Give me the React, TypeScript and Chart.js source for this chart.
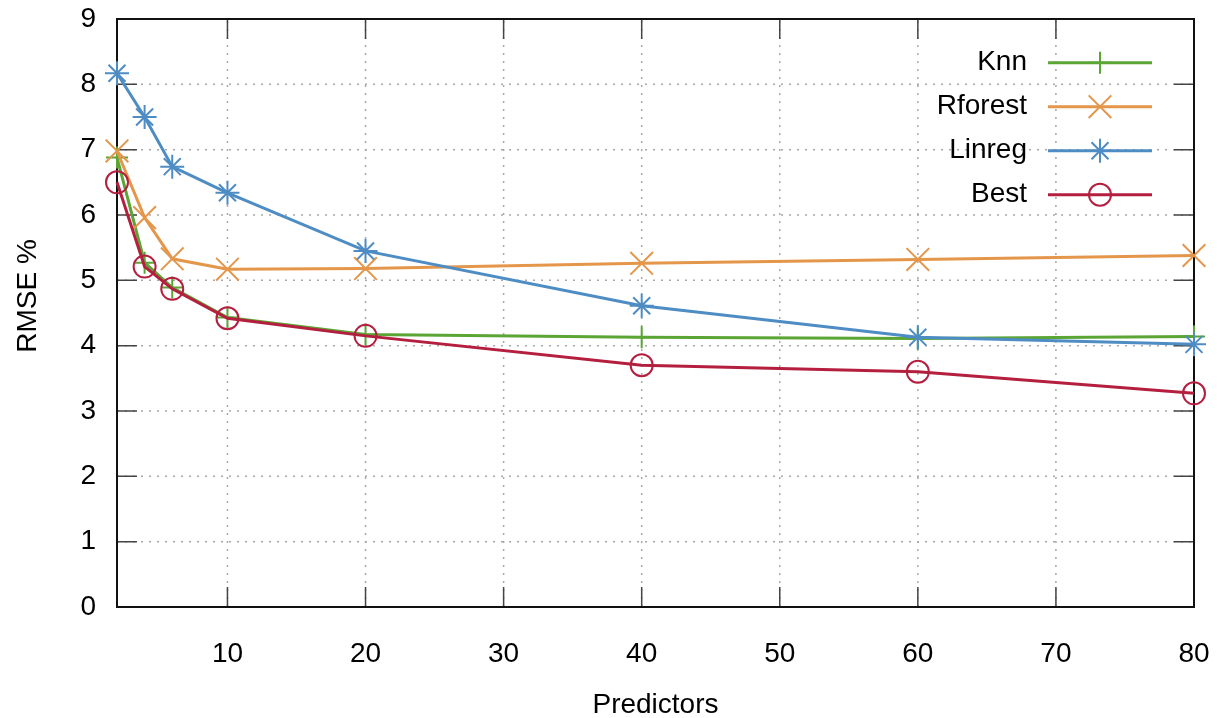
import React, { useEffect, useRef } from 'react';
import { Chart, registerables } from 'chart.js';
import { drawPoint } from 'chart.js/helpers';

Chart.register(...registerables);

const predictors = [2, 4, 6, 10, 20, 40, 60, 80];
const knnValues = [6.88, 5.27, 4.89, 4.43, 4.17, 4.13, 4.11, 4.14];
const rforestValues = [6.98, 5.96, 5.33, 5.17, 5.18, 5.26, 5.32, 5.38];
const linregValues = [8.17, 7.5, 6.74, 6.34, 5.45, 4.61, 4.13, 4.02];
const bestValues = [6.5, 5.21, 4.87, 4.42, 4.15, 3.7, 3.6, 3.27];

const seriesNames = ['Knn', 'Rforest', 'Linreg', 'Best'];
const seriesColors = ['#5ba535', '#e4964b', '#4e8cc4', '#b51f3f'];
const seriesMarkers = ['cross', 'crossRot', 'star', 'circle'];
const seriesRadius = [11, 16, 12, 11];

const xTickValues = [10, 20, 30, 40, 50, 60, 70, 80];
const xMin = 2;
const xMax = 80;
const yMin = 0;
const yMax = 9;
const xTitle = 'Predictors';
const yTitle = 'RMSE %';

const FONT = 'Liberation Sans, Arial, Helvetica, sans-serif';
const FONT_SIZE = 28;

const framePlugin = {
  id: 'gnuplotFrame',
  beforeDatasetsDraw(chart: any) {
    const { ctx, chartArea } = chart;
    const { left, right, top, bottom } = chartArea;
    const xs = chart.scales.x;
    const ys = chart.scales.y;
    ctx.save();
    // dotted grid
    ctx.strokeStyle = '#a8a8a8';
    ctx.lineWidth = 1.5;
    ctx.setLineDash([2, 6]);
    for (let v = yMin + 1; v < yMax; v++) {
      const py = ys.getPixelForValue(v);
      ctx.beginPath();
      ctx.moveTo(left, py);
      ctx.lineTo(right, py);
      ctx.stroke();
    }
    for (const v of xTickValues) {
      if (v >= xMax) continue;
      const px = xs.getPixelForValue(v);
      ctx.beginPath();
      ctx.moveTo(px, bottom);
      ctx.lineTo(px, top);
      ctx.stroke();
    }
    ctx.setLineDash([]);
    // inward ticks
    ctx.strokeStyle = '#444';
    ctx.lineWidth = 1.5;
    const tl = 20;
    for (let v = yMin + 1; v < yMax; v++) {
      const py = ys.getPixelForValue(v);
      ctx.beginPath();
      ctx.moveTo(left, py);
      ctx.lineTo(left + tl, py);
      ctx.moveTo(right, py);
      ctx.lineTo(right - tl, py);
      ctx.stroke();
    }
    for (const v of xTickValues) {
      if (v >= xMax) continue;
      const px = xs.getPixelForValue(v);
      ctx.beginPath();
      ctx.moveTo(px, bottom);
      ctx.lineTo(px, bottom - tl);
      ctx.moveTo(px, top);
      ctx.lineTo(px, top + tl);
      ctx.stroke();
    }
    ctx.strokeStyle = '#111';
    ctx.lineWidth = 2;
    ctx.strokeRect(left, top, right - left, bottom - top);
    ctx.restore();
  },
  afterDraw(chart: any) {
    const { ctx, chartArea } = chart;
    const { left, right, top } = chartArea;
    ctx.save();
    ctx.fillStyle = '#000';
    ctx.font = `${FONT_SIZE}px ${FONT}`;
    // axis titles
    ctx.textAlign = 'center';
    ctx.textBaseline = 'middle';
    ctx.fillText(xTitle, (left + right) / 2, 705);
    ctx.save();
    ctx.translate(28, 296);
    ctx.rotate(-Math.PI / 2);
    ctx.fillText(yTitle, 0, 0);
    ctx.restore();
    // legend
    for (let i = 0; i < seriesNames.length; i++) {
      const y = top + 43.7 + i * 44;
      ctx.fillStyle = '#000';
      ctx.textAlign = 'right';
      ctx.textBaseline = 'middle';
      ctx.fillText(seriesNames[i], right - 167, y);
      ctx.strokeStyle = seriesColors[i];
      ctx.lineWidth = 3;
      ctx.beginPath();
      ctx.moveTo(right - 146, y);
      ctx.lineTo(right - 42, y);
      ctx.stroke();
      ctx.lineWidth = 2;
      ctx.fillStyle = 'rgba(0,0,0,0)';
      drawPoint(
        ctx,
        { pointStyle: seriesMarkers[i], radius: seriesRadius[i], rotation: 0, borderWidth: 2 } as any,
        right - 94,
        y
      );
    }
    ctx.restore();
  },
};

export default function App() {
  const canvasRef = useRef<HTMLCanvasElement>(null);

  useEffect(() => {
    const canvas = canvasRef.current;
    if (!canvas) return;
    const seriesValues = [knnValues, rforestValues, linregValues, bestValues];
    const datasets = seriesNames.map((name, i) => ({
      label: name,
      data: predictors.map((x, j) => ({ x, y: seriesValues[i][j] })),
      borderColor: seriesColors[i],
      backgroundColor: 'rgba(0,0,0,0)',
      borderWidth: 3,
      pointStyle: seriesMarkers[i] as any,
      pointRadius: seriesRadius[i],
      pointHoverRadius: seriesRadius[i],
      pointBorderWidth: 2,
      pointBorderColor: seriesColors[i],
      pointBackgroundColor: 'rgba(0,0,0,0)',
      tension: 0,
      clip: false as any,
      order: seriesNames.length - 1 - i,
    }));

    const chart = new Chart(canvas, {
      type: 'line',
      data: { datasets },
      options: {
        animation: false,
        responsive: false,
        devicePixelRatio: 1,
        layout: { padding: { left: 0, right: 23, top: 19, bottom: 0 } },
        plugins: { legend: { display: false }, tooltip: { enabled: false } },
        scales: {
          x: {
            type: 'linear',
            min: xMin,
            max: xMax,
            afterBuildTicks: (scale: any) => {
              scale.ticks = xTickValues.map((v) => ({ value: v }));
            },
            afterFit: (scale: any) => {
              scale.height = 111;
              scale.paddingLeft = 0;
              scale.paddingRight = 0;
              scale.paddingTop = 0;
              scale.paddingBottom = 0;
            },
            border: { display: false },
            grid: { display: false, drawTicks: false },
            ticks: {
              padding: 30,
              color: '#000',
              font: { family: FONT, size: FONT_SIZE },
              maxRotation: 0,
              autoSkip: false,
              callback: (v: any) => String(v),
            },
          },
          y: {
            type: 'linear',
            min: yMin,
            max: yMax,
            afterFit: (scale: any) => {
              scale.width = 117;
              scale.paddingLeft = 0;
              scale.paddingRight = 0;
              scale.paddingTop = 0;
              scale.paddingBottom = 0;
            },
            border: { display: false },
            grid: { display: false, drawTicks: false },
            ticks: {
              stepSize: 1,
              padding: 21,
              color: '#000',
              font: { family: FONT, size: FONT_SIZE },
            },
          },
        },
      } as any,
      plugins: [framePlugin],
    });
    return () => chart.destroy();
  }, []);

  return (
    <canvas
      ref={canvasRef}
      width={1217}
      height={718}
      style={{ position: 'absolute', left: 0, top: 0, width: 1217, height: 718, background: '#fff' }}
    />
  );
}
